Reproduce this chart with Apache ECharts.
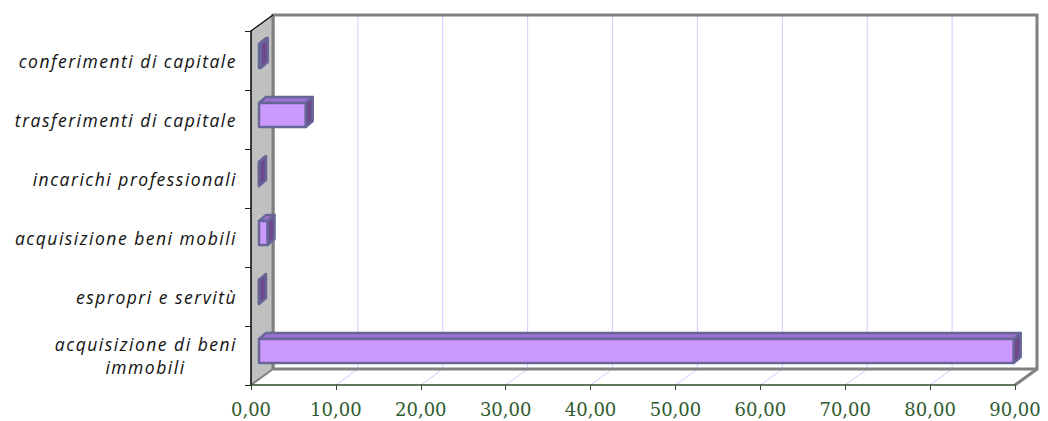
<!DOCTYPE html>
<html>
<head>
<meta charset="utf-8">
<style>
html,body{margin:0;padding:0;background:#fff;}
#main{width:1048px;height:421px;}
#main text[style*="italic"]{letter-spacing:1.5px;}
</style>
<script src="https://cdn.jsdelivr.net/npm/echarts@6/dist/echarts.min.js"></script>
</head>
<body>
<div id="main"></div>
<script>
// Data (bottom to top)
const categories = [
  'acquisizione di beni\nimmobili',
  'espropri e servitù',
  'acquisizione beni mobili',
  'incarichi professionali',
  'trasferimenti di capitale',
  'conferimenti di capitale'
];
const values = [88.9, 0, 1.0, 0, 5.5, 0.2];
const xTicks = [0, 10, 20, 30, 40, 50, 60, 70, 80, 90];

const DEPTH_X = 22, DEPTH_Y = -16;

const chart = echarts.init(document.getElementById('main'), null, {renderer: 'svg'});

function renderWalls(params, api) {
  const cs = params.coordSys;
  const x0 = cs.x, y0 = cs.y, w = cs.width, h = cs.height;
  const children = [];
  children.push({type: 'polygon', shape: {points: [[x0, y0 + h], [x0 + w, y0 + h], [x0 + w + DEPTH_X, y0 + h + DEPTH_Y], [x0 + DEPTH_X, y0 + h + DEPTH_Y]]},
    style: {fill: '#ffffff'}});
  children.push({type: 'rect', shape: {x: x0 + DEPTH_X, y: y0 + DEPTH_Y, width: w, height: h},
    style: {fill: '#ffffff'}});
  xTicks.forEach(function (v) {
    if (v === xTicks[0] || v === xTicks[xTicks.length - 1]) return;
    const px = api.coord([v, 0])[0];
    children.push({type: 'line', shape: {x1: px + DEPTH_X, y1: y0 + DEPTH_Y, x2: px + DEPTH_X, y2: y0 + h + DEPTH_Y},
      style: {stroke: '#ccccff', lineWidth: 1}});
    children.push({type: 'line', shape: {x1: px, y1: y0 + h, x2: px + DEPTH_X, y2: y0 + h + DEPTH_Y},
      style: {stroke: '#ccccff', lineWidth: 1}});
  });
  children.push({type: 'rect', shape: {x: x0 + DEPTH_X, y: y0 + DEPTH_Y, width: w, height: h},
    style: {fill: null, stroke: '#808080', lineWidth: 3}});
  children.push({type: 'line', shape: {x1: x0 + w, y1: y0 + h, x2: x0 + w + DEPTH_X, y2: y0 + h + DEPTH_Y},
    style: {stroke: '#808080', lineWidth: 3}});
  children.push({type: 'polygon', shape: {points: [[x0, y0], [x0 + DEPTH_X, y0 + DEPTH_Y], [x0 + DEPTH_X, y0 + h + DEPTH_Y], [x0, y0 + h]]},
    style: {fill: '#c0c0c0'}});
  children.push({type: 'line', shape: {x1: x0 + DEPTH_X, y1: y0 + DEPTH_Y, x2: x0 + DEPTH_X, y2: y0 + h + DEPTH_Y},
    style: {stroke: '#808080', lineWidth: 3}});
  children.push({type: 'line', shape: {x1: x0, y1: y0 + h, x2: x0 + DEPTH_X, y2: y0 + h + DEPTH_Y},
    style: {stroke: '#808080', lineWidth: 2}});
  children.push({type: 'line', shape: {x1: x0, y1: y0, x2: x0 + DEPTH_X, y2: y0 + DEPTH_Y},
    style: {stroke: '#000000', lineWidth: 1.2}});
  return {type: 'group', children: children};
}

function renderBar(params, api) {
  const v = api.value(0), c = api.value(1);
  const p0 = api.coord([0, c]);
  const p1 = api.coord([v, c]);
  const ox = 8, oy = -4.5, bh = 24, dx = 7, dy = -6;
  const xa = p0[0] + ox, xb = p1[0] + ox;
  const yT = p0[1] + oy - bh / 2, yB = yT + bh;
  const border = {stroke: '#666699', lineWidth: 2.5, lineJoin: 'round'};
  return {type: 'group', children: [
    {type: 'polygon', shape: {points: [[xa, yT], [xb, yT], [xb + dx, yT + dy], [xa + dx, yT + dy]]},
      style: Object.assign({fill: '#9c72cf'}, border)},
    {type: 'polygon', shape: {points: [[xb, yT], [xb + dx, yT + dy], [xb + dx, yB + dy], [xb, yB]]},
      style: Object.assign({fill: '#6e4a8c'}, border)},
    {type: 'rect', shape: {x: xa, y: yT, width: xb - xa, height: bh},
      style: Object.assign({fill: '#cc99ff'}, border)}
  ]};
}

const option = {
  animation: false,
  grid: {left: 251, right: 33, top: 31, bottom: 36, containLabel: false},
  xAxis: {
    type: 'value', min: 0, max: 90, interval: 10, z: 4,
    axisLine: {show: true, lineStyle: {color: '#2d4d2d', width: 1.5}},
    axisTick: {show: true, length: 5, lineStyle: {color: '#2d4d2d'}},
    splitLine: {show: false},
    axisLabel: {
      margin: 15, color: '#2f5a2f', fontFamily: 'DejaVu Serif', fontSize: 18,
      formatter: function (v) { return v.toFixed(2).replace('.', ','); }
    }
  },
  yAxis: {
    type: 'category', data: categories, z: 4,
    axisLine: {show: true, lineStyle: {color: '#000000', width: 1.5}},
    axisTick: {show: true, length: 6, lineStyle: {color: '#222222'}},
    axisLabel: {
      margin: 14, color: '#111111', fontFamily: 'Open Sans', fontStyle: 'italic', fontSize: 17.5, lineHeight: 23,
      formatter: function (val) {
        const parts = val.split('\n');
        if (parts.length > 1) return parts[0] + '\n{c|' + parts[1] + '}';
        return val;
      },
      rich: {c: {width: 183, align: 'center', fontFamily: 'Open Sans', fontStyle: 'italic', fontSize: 17.5, lineHeight: 23, color: '#111111'}}
    }
  },
  series: [
    {type: 'custom', renderItem: renderWalls, data: [[0, 0]], z: 1, silent: true, clip: false},
    {type: 'custom', renderItem: renderBar, z: 6, clip: false,
      data: values.map(function (v, i) { return [v, i]; })}
  ]
};
chart.setOption(option);
</script>
</body>
</html>
